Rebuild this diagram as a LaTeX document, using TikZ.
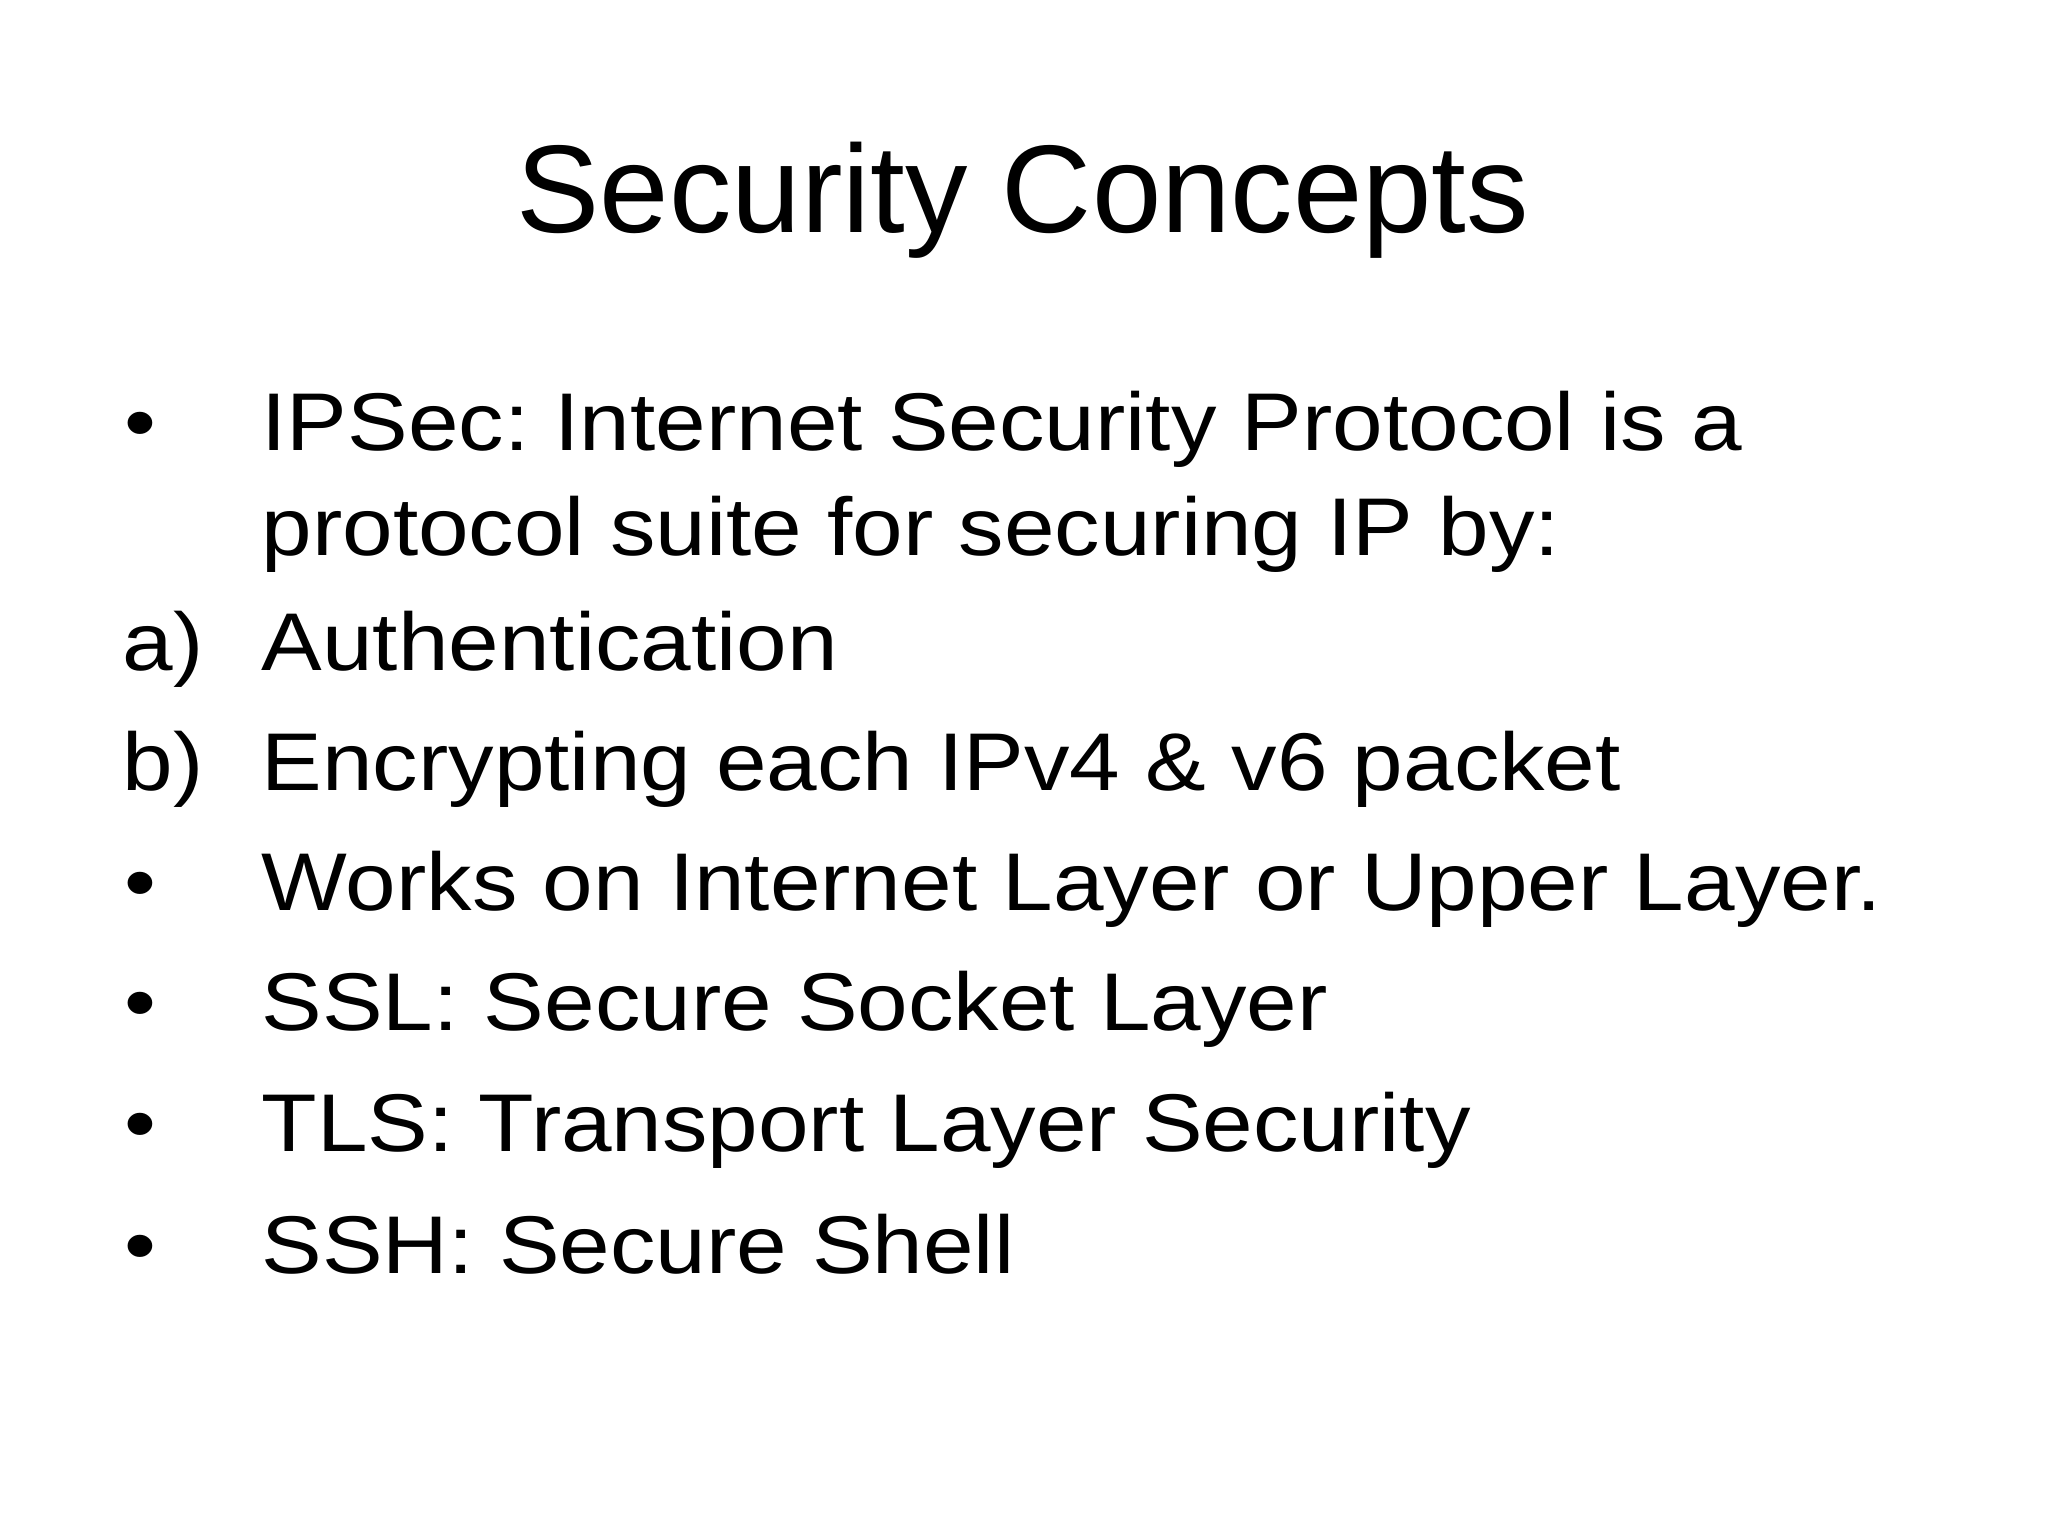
\documentclass[tikz,border=0pt]{standalone}
\usepackage{fontspec}
\setmainfont{Liberation Sans}
\newfontfamily\bodyfont[FakeStretch=1.11]{Liberation Sans}
\frenchspacing
\begin{document}
\begin{tikzpicture}[x=1cm,y=1cm,
  itm/.style={anchor=base west,inner sep=0pt,font=\bodyfont\fontsize{23.3}{28}\selectfont},
  ttl/.style={anchor=base,inner sep=0pt,font=\fontsize{35.5}{42}\selectfont}]
\useasboundingbox (0,0) rectangle (20.48,-15.36);
\node[ttl] (title) at (10.23,-2.325) {Security Concepts};
\node[itm] (b1) at (1.24,-4.506) {•};
\node[itm] (t1) at (2.61,-4.506) {IPSec: Internet Security Protocol is a};
\node[itm] (t1b) at (2.61,-5.551) {protocol suite for securing IP by:};
\node[itm] (b2) at (1.22,-6.700) {a)};
\node[itm] (t2) at (2.61,-6.700) {Authentication};
\node[itm] (b3) at (1.22,-7.901) {b)};
\node[itm] (t3) at (2.61,-7.901) {Encrypting each IPv4 \& v6 packet};
\node[itm] (b4) at (1.24,-9.103) {•};
\node[itm] (t4) at (2.61,-9.103) {Works on Internet Layer or Upper Layer.};
\node[itm] (b5) at (1.24,-10.304) {•};
\node[itm] (t5) at (2.61,-10.304) {SSL: Secure Socket Layer};
\node[itm] (b6) at (1.24,-11.519) {•};
\node[itm] (t6) at (2.61,-11.519) {TLS: Transport Layer Security};
\node[itm] (b7) at (1.24,-12.734) {•};
\node[itm] (t7) at (2.61,-12.734) {SSH: Secure Shell};
\end{tikzpicture}
\end{document}
